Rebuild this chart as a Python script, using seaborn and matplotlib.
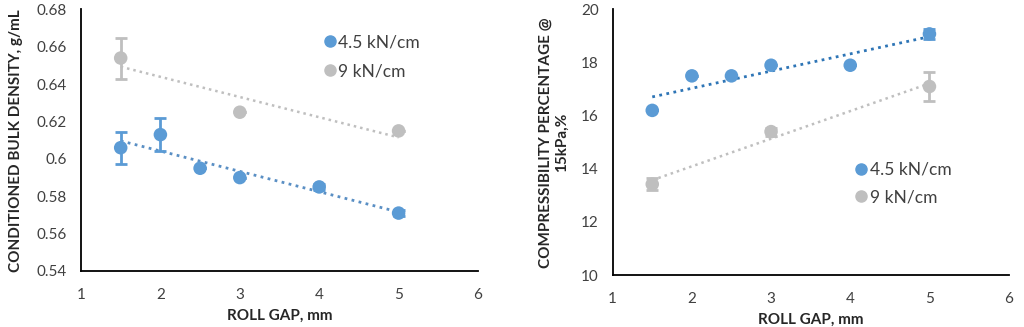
import numpy as np
import pandas as pd
import matplotlib
matplotlib.use("Agg")
import matplotlib.pyplot as plt
from matplotlib.lines import Line2D
import seaborn as sns

# Roll gap settings (mm)
gap_low = [1.5, 2, 2.5, 3, 4, 5]
gap_high = [1.5, 3, 5]

# Conditioned bulk density (g/mL)
density_low = [0.606, 0.613, 0.595, 0.590, 0.585, 0.571]
density_low_err = [0.0085, 0.0088, 0.0, 0.0, 0.0015, 0.0015]
density_high = [0.654, 0.625, 0.615]
density_high_err = [0.011, 0.0, 0.0]

# Compressibility percentage at 15 kPa (%)
compress_low = [16.2, 17.5, 17.5, 17.9, 17.9, 19.08]
compress_low_err = [0.0, 0.0, 0.0, 0.0, 0.0, 0.2]
compress_high = [13.42, 15.4, 17.1]
compress_high_err = [0.22, 0.15, 0.54]

series_labels = ["4.5 kN/cm", "9 kN/cm"]

BLUE = "#5B9BD5"
GRAY = "#BFBFBF"
TICK_COLOR = "#404040"

sns.set_theme(style="white")
plt.rcParams["font.family"] = ["Lato", "DejaVu Sans"]

fig = plt.figure(figsize=(10.24, 3.27), dpi=100)
ax1 = fig.add_axes([0.0791, 0.1713, 0.3877, 0.7997])
ax2 = fig.add_axes([0.5983, 0.159, 0.3867, 0.812])


def draw_panel(ax, x_lo, y_lo, e_lo, x_hi, y_hi, e_hi, trend_lo_color):
    df_lo = pd.DataFrame({"gap": x_lo, "value": y_lo})
    df_hi = pd.DataFrame({"gap": x_hi, "value": y_hi})
    dotted = (0, (1.0, 1.6))
    # linear trendlines
    sns.regplot(data=df_hi, x="gap", y="value", ax=ax, scatter=False, ci=None,
                line_kws=dict(color=GRAY, lw=1.8, linestyle=dotted, zorder=2))
    sns.regplot(data=df_lo, x="gap", y="value", ax=ax, scatter=False, ci=None,
                line_kws=dict(color=trend_lo_color, lw=2.0, linestyle=dotted, zorder=2))
    # error bars
    ax.errorbar(x_hi, y_hi, yerr=e_hi, fmt="none", ecolor=GRAY, elinewidth=2,
                capsize=4, capthick=2, zorder=3)
    ax.errorbar(x_lo, y_lo, yerr=e_lo, fmt="none", ecolor=BLUE, elinewidth=2,
                capsize=4, capthick=2, zorder=3)
    # points
    sns.scatterplot(data=df_hi, x="gap", y="value", ax=ax, color=GRAY, s=95,
                    edgecolor="none", zorder=4, legend=False)
    sns.scatterplot(data=df_lo, x="gap", y="value", ax=ax, color=BLUE, s=95,
                    edgecolor="none", zorder=4, legend=False)

    ax.set_xlim(1, 6)
    ax.set_xticks([1, 2, 3, 4, 5, 6])
    for side in ["top", "right"]:
        ax.spines[side].set_visible(False)
    for side in ["left", "bottom"]:
        ax.spines[side].set_color("#000000")
        ax.spines[side].set_linewidth(1.3)
    ax.tick_params(axis="both", length=0, labelsize=11, colors=TICK_COLOR)
    ax.tick_params(axis="x", pad=12.5)
    ax.tick_params(axis="y", pad=10)
    ax.set_xlabel("ROLL GAP, mm", fontsize=11, fontweight="bold", color="#262626",
                  labelpad=4.5)


draw_panel(ax1, gap_low, density_low, density_low_err,
           gap_high, density_high, density_high_err, "#5A8FC4")
ax1.set_ylim(0.54, 0.68)
ax1.set_yticks(np.arange(0.54, 0.681, 0.02))
ax1.set_yticklabels(["0.54", "0.56", "0.58", "0.6", "0.62", "0.64", "0.66", "0.68"])
ax1.set_ylabel("CONDITIONED BULK DENSITY, g/mL", fontsize=11, fontweight="bold",
               color="#262626", labelpad=10)

draw_panel(ax2, gap_low, compress_low, compress_low_err,
           gap_high, compress_high, compress_high_err, "#2E75B6")
ax2.set_ylim(10, 20)
ax2.set_yticks([10, 12, 14, 16, 18, 20])
ax2.set_ylabel("COMPRESSIBILITY PERCENTAGE @\n15kPa,%", fontsize=11,
               fontweight="bold", color="#262626", labelpad=9, linespacing=1.15)

handles = [
    Line2D([], [], marker="o", linestyle="none", color=BLUE, markersize=8),
    Line2D([], [], marker="o", linestyle="none", color=GRAY, markersize=8),
]
legend_spots = [(ax1, (0.565, 0.965), 0.75), (ax2, (0.567, 0.485), 0.65)]
for ax, anchor, spacing in legend_spots:
    ax.legend(handles, series_labels, loc="upper left", bbox_to_anchor=anchor,
              frameon=False, fontsize=12.5, handletextpad=0.0, handlelength=1.0,
              labelspacing=spacing, labelcolor=TICK_COLOR)

fig.savefig("out.png", dpi=100)
